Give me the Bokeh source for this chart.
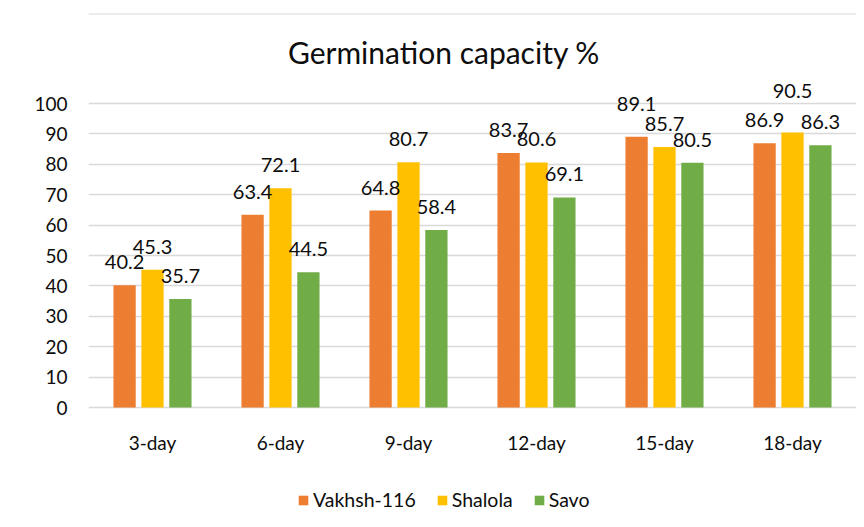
from bokeh.plotting import figure
from bokeh.models import (ColumnDataSource, Range1d, FactorRange, LabelSet, Label,
                          Legend, LegendItem, FixedTicker, Span)
from bokeh.core.properties import value
from bokeh.transform import dodge
from bokeh.embed import file_html
from bokeh.resources import INLINE

categories = ["3-day", "6-day", "9-day", "12-day", "15-day", "18-day"]
vakhsh = [40.2, 63.4, 64.8, 83.7, 89.1, 86.9]
shalola = [45.3, 72.1, 80.7, 80.6, 85.7, 90.5]
savo = [35.7, 44.5, 58.4, 69.1, 80.5, 86.3]
series_names = ["Vakhsh-116", "Shalola", "Savo"]
y_ticks = [0, 10, 20, 30, 40, 50, 60, 70, 80, 90, 100]
title_text = "Germination capacity %"

colors = ["#ED7D31", "#FFC000", "#70AD47"]
offsets = [-0.218, 0.0, 0.218]
bar_w = 0.174
FONT = "Lato"
TXT = "#0d0d0d"
# extra upward nudges (px) for labels Excel moved to avoid overlaps
nudges = [
    [0, 0, 0, 0, 10, 0],
    [0, 0, 0, 0, 0, 18],
    [0, 0, 0, 0, 0, 0],
]

W, H = 856, 519
FRAME_LEFT = 88
ZERO_PX = 407          # pixel row of value 0
PX_PER_UNIT = 3.04
y_lo = -(H - ZERO_PX) / PX_PER_UNIT
y_hi = ZERO_PX / PX_PER_UNIT

p = figure(width=W, height=H, x_range=FactorRange(*categories),
           y_range=Range1d(y_lo, y_hi), output_backend="svg", toolbar_location=None,
           min_border_left=FRAME_LEFT, min_border_right=0, min_border_top=0,
           min_border_bottom=0)
p.outline_line_color = None
p.background_fill_color = "white"
p.title.visible = False

src = ColumnDataSource(dict(cat=categories, v0=vakhsh, v1=shalola, v2=savo,
                            l0=[f"{v:.1f}" for v in vakhsh],
                            l1=[f"{v:.1f}" for v in shalola],
                            l2=[f"{v:.1f}" for v in savo],
                            o0=[16 + n for n in nudges[0]],
                            o1=[16 + n for n in nudges[1]],
                            o2=[16 + n for n in nudges[2]]))

items = []
for i, name in enumerate(series_names):
    r = p.vbar(x=dodge("cat", offsets[i], range=p.x_range), top=f"v{i}", width=bar_w,
               source=src, fill_color=colors[i], line_color=None)
    items.append(LegendItem(label=name, renderers=[r]))
    ls = LabelSet(x=dodge("cat", offsets[i], range=p.x_range), y=f"v{i}", text=f"l{i}",
                  source=src, text_align="center", text_baseline="alphabetic",
                  y_offset=f"o{i}", text_font=value(FONT), text_font_size="20px",
                  text_color=TXT)
    p.add_layout(ls)

# category labels under the zero line
cat_src = ColumnDataSource(dict(cat=categories, y=[y_ticks[0]] * len(categories)))
p.add_layout(LabelSet(x="cat", y="y", text="cat", source=cat_src, text_align="center",
                      text_baseline="alphabetic", y_offset=-42,
                      text_font=value(FONT), text_font_size="19px", text_color=TXT))

# y axis
p.yaxis.ticker = FixedTicker(ticks=y_ticks)
p.yaxis.axis_line_color = None
p.yaxis.major_tick_line_color = None
p.yaxis.minor_tick_line_color = None
p.yaxis.major_label_standoff = 15
p.yaxis.major_label_text_font = FONT
p.yaxis.major_label_text_font_size = "19px"
p.yaxis.major_label_text_color = TXT

p.xaxis.visible = False
p.xgrid.grid_line_color = None
p.ygrid.ticker = FixedTicker(ticks=y_ticks)
p.ygrid.grid_line_color = "#d9d9d9"
p.ygrid.grid_line_width = 1.5

# chart-area border (top edge)
p.add_layout(Span(location=y_hi - 13.5 / PX_PER_UNIT, dimension="width",
                  line_color="#d9d9d9", line_width=1))

legend = Legend(items=items, orientation="horizontal", location=(209, 8),
                glyph_width=12, glyph_height=12, label_standoff=4, spacing=20,
                padding=0, margin=0, border_line_color=None, background_fill_alpha=0,
                label_text_font=FONT, label_text_font_size="19.5px",
                label_text_color=TXT, label_height=20)
p.add_layout(legend, "center")

p.add_layout(Label(x=355.5, y=H - 51, x_units="screen", y_units="screen",
                   text=title_text, text_align="center", text_baseline="alphabetic",
                   text_font=FONT, text_font_size="30px", text_color=TXT))

open("out.html", "w").write(file_html(p, INLINE))
